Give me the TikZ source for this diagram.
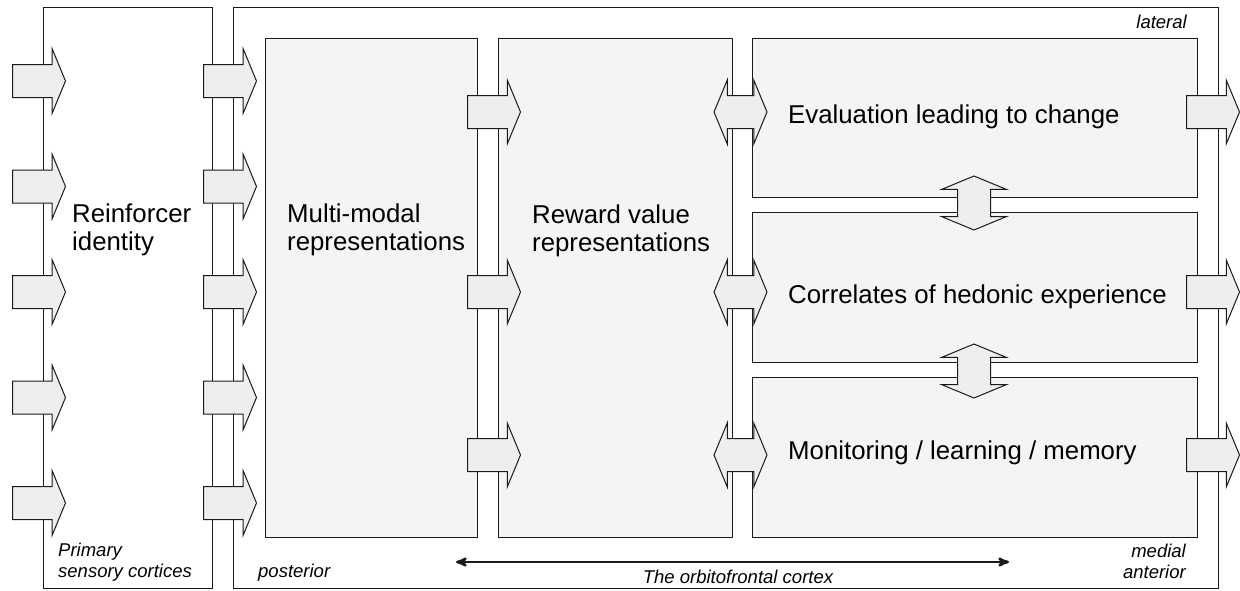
\documentclass[tikz,border=0pt]{standalone}
\usepackage{fontspec}
\setmainfont{Liberation Sans}
\usetikzlibrary{arrows,shapes.arrows}
\definecolor{panelgray}{HTML}{F4F4F4}
\definecolor{arrowgray}{HTML}{EEEEEE}
\definecolor{edgegray}{HTML}{1A1A1A}
\tikzset{>=stealth',
  panel/.style={draw=edgegray, line width=1pt, fill=panelgray,
    inner sep=0pt, outer sep=0pt, anchor=north west},
  frame/.style={panel, fill=white},
  fatarrow/.style={single arrow, draw=edgegray, fill=arrowgray, line width=1pt,
    minimum height=53pt, inner xsep=0pt, inner ysep=16pt,
    single arrow head extend=15.5pt, single arrow tip angle=135},
  twoway/.style={double arrow, draw=edgegray, fill=arrowgray, line width=1pt,
    minimum height=53pt, inner xsep=0pt, inner ysep=16pt,
    double arrow head extend=15.5pt, double arrow tip angle=135},
  updown/.style={twoway, shape border rotate=90, minimum height=54pt,
    inner xsep=16pt, inner ysep=0pt, double arrow head extend=16pt}}
\tikzstyle{big}=[font=\fontsize{25.8}{28.5}\selectfont, align=left,
  inner sep=0pt, anchor=base west]
\tikzstyle{small}=[font=\fontsize{18.5}{20.5}\selectfont\itshape,
  inner sep=0pt, anchor=base west]
\begin{document}
\begin{tikzpicture}[x=1pt,y=-1pt]
  \useasboundingbox (0,0) rectangle (1240,590);
  \node[frame, minimum width=169pt, minimum height=581pt] (sens) at (43,7) {};
  \node[frame, minimum width=985pt, minimum height=581pt] (ofc) at (233,7) {};
  \node[panel, minimum width=212pt, minimum height=499pt] (multi) at (265,38) {};
  \node[panel, minimum width=234pt, minimum height=499pt] (reward) at (498,38) {};
  \node[panel, minimum width=445pt, minimum height=159pt] (eval) at (752,38) {};
  \node[panel, minimum width=445pt, minimum height=150pt] (hedon) at (752,212) {};
  \node[panel, minimum width=445pt, minimum height=160pt] (monit) at (752,377) {};

  \node[big] (sensT) at (72,250.5) {Reinforcer\\identity};
  \node[big] (multiT) at (287,250.5) {Multi-modal\\representations};
  \node[big] (rewardT) at (532,251.5) {Reward value\\representations};
  \node[big] (evalT) at (788,123) {Evaluation leading to change};
  \node[big] (hedonT) at (788,303) {Correlates of hedonic experience};
  \node[big] (monitT) at (788,459) {Monitoring / learning / memory};

  \node[small, align=left] (primT) at (58,577) {Primary\\sensory cortices};
  \node[small] (postT) at (258,577) {posterior};
  \node[small, anchor=base east] (latT) at (1187,28) {lateral};
  \node[small, align=right, anchor=base east] (medT) at (1186,578) {medial\\anterior};

  \foreach \y [count=\i] in {81,186.5,292,397.5,503} {
    \node[fatarrow, anchor=tail] (inA\i) at (12,\y) {};
    \node[fatarrow, anchor=tail] (inB\i) at (203,\y) {};
  }
  \foreach \y/\n in {112/eval,292/hedon,455/monit} {
    \node[fatarrow, anchor=tail] (mr\n) at (467,\y) {};
    \node[twoway] (rv\n) at (740.5,\y) {};
    \node[fatarrow, anchor=tail] (out\n) at (1186,\y) {};
  }
  \node[updown] (evhe) at (974,203) {};
  \node[updown] (hemo) at (974,371) {};

  \coordinate (postC) at (456,562);
  \coordinate (antC) at (1009,562);
  \draw[<->, line width=2.5pt, edgegray] (postC) -- (antC);
  \node[small, anchor=base] (ofcT) at (738,583) {The orbitofrontal cortex};
\end{tikzpicture}
\end{document}
